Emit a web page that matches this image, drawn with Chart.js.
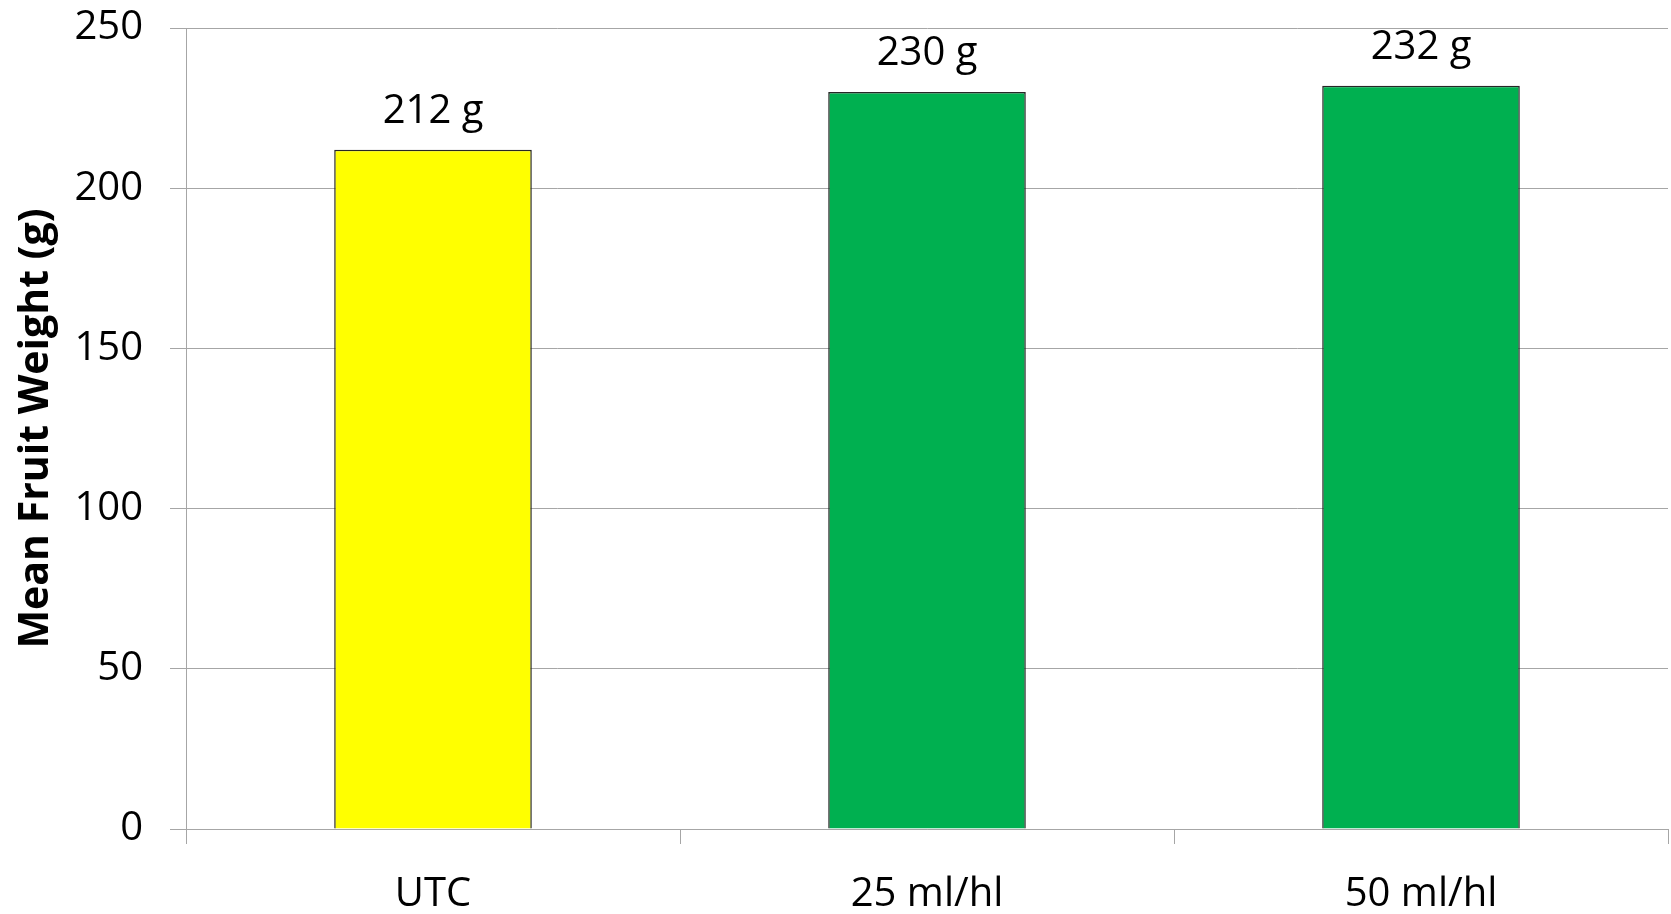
<!DOCTYPE html>
<html>
<head>
<meta charset="utf-8">
<title>Mean Fruit Weight</title>
<script src="https://cdn.jsdelivr.net/npm/chart.js@4.4.1/dist/chart.umd.min.js"></script>
<style>
    html, body { margin: 0; padding: 0; background: #fff; }
    #wrap { position: relative; width: 1671px; height: 914px; }
</style>
</head>
<body>
<div id="wrap"><canvas id="weightChart"></canvas></div>
<script>
const treatments = ['UTC', '25 ml/hl', '50 ml/hl'];
const weights = [212, 230, 232];
const barColors = ['#FFFF00', '#00B050', '#00B050'];
const yTicks = [0, 50, 100, 150, 200, 250];

const axisGray = '#a6a6a6';
const fontFamily = '"Open Sans", "Noto Sans", sans-serif';

// writes "212 g" etc. above each bar
const valueLabels = {
    id: 'valueLabels',
    afterDatasetsDraw(chart) {
        const ctx = chart.ctx;
        const meta = chart.getDatasetMeta(0);
        ctx.save();
        ctx.font = '40px ' + fontFamily;
        ctx.fillStyle = '#000';
        ctx.textAlign = 'center';
        ctx.textBaseline = 'alphabetic';
        meta.data.forEach((bar, i) => {
            ctx.fillText(weights[i] + ' g', bar.x, bar.y - 27);
        });
        ctx.restore();
    }
};

function drawChart() {
    const ctx = document.getElementById('weightChart').getContext('2d');
    new Chart(ctx, {
        type: 'bar',
        data: {
            labels: treatments,
            datasets: [{
                data: weights,
                backgroundColor: barColors,
                borderColor: '#262626',
                borderWidth: 1.5,
                barPercentage: 0.4,
                categoryPercentage: 1
            }]
        },
        options: {
            responsive: true,
            maintainAspectRatio: false,
            animation: false,
            layout: {
                padding: { top: 28, right: 3, left: 0, bottom: 0 }
            },
            plugins: {
                legend: { display: false },
                tooltip: { enabled: false }
            },
            scales: {
                x: {
                    grid: {
                        offset: true,
                        drawOnChartArea: false,
                        drawTicks: true,
                        tickLength: 15,
                        color: axisGray
                    },
                    border: { color: axisGray },
                    ticks: {
                        padding: 27,
                        color: '#000',
                        font: { family: fontFamily, size: 40 }
                    },
                    afterFit: scale => { scale.height = 85; }
                },
                y: {
                    min: 0,
                    max: 250,
                    afterBuildTicks: scale => {
                        scale.ticks = yTicks.map(v => ({ value: v }));
                    },
                    grid: {
                        color: axisGray,
                        tickLength: 16
                    },
                    border: { color: axisGray },
                    ticks: {
                        padding: 27,
                        color: '#000',
                        font: { family: fontFamily, size: 40 }
                    },
                    title: {
                        display: true,
                        text: 'Mean Fruit Weight (g)',
                        color: '#000',
                        padding: { top: 12, bottom: 0 },
                        font: { family: fontFamily, size: 41, weight: 'bold' }
                    },
                    afterFit: scale => {
                        scale.width = 186;
                        // top label may overhang; plot top comes from layout padding
                        scale.paddingTop = 0;
                        scale.paddingBottom = 0;
                    }
                }
            }
        },
        plugins: [valueLabels]
    });
}

document.fonts.load('40px "Open Sans"').then(drawChart, drawChart);
</script>
</body>
</html>
